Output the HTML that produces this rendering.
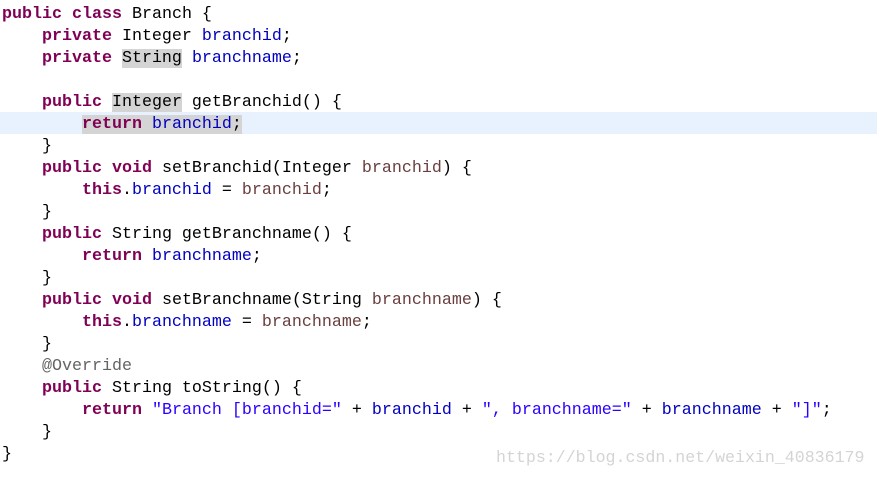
<!DOCTYPE html>
<html><head><meta charset="utf-8"><style>
body{margin:0;width:877px;height:478px;background:#fff;overflow:hidden;position:relative}
pre{margin:0;position:absolute;left:2px;top:4px;font-family:"Liberation Mono",monospace;font-size:16.67px;line-height:22px;color:#000}
.k{color:#7f0055;font-weight:bold}
.f{color:#0000c0}
.p{color:#6a3e3e}
.s{color:#2a00ff}
.a{color:#646464}
.hl{background:#d4d4d4}
#cur{position:absolute;left:0;top:112px;width:877px;height:22px;background:#e8f2fe}
#wm{position:absolute;left:496px;top:448px;font-family:"Liberation Mono",monospace;font-size:16.6px;color:#d4d4d4}
</style></head><body>
<div id="cur"></div>
<pre><span class="k">public</span> <span class="k">class</span> Branch {
    <span class="k">private</span> Integer <span class="f">branchid</span>;
    <span class="k">private</span> <span class="hl">String</span> <span class="f">branchname</span>;

    <span class="k">public</span> <span class="hl">Integer</span> getBranchid() {
        <span class="hl"><span class="k">return</span> <span class="f">branchid</span>;</span>
    }
    <span class="k">public</span> <span class="k">void</span> setBranchid(Integer <span class="p">branchid</span>) {
        <span class="k">this</span>.<span class="f">branchid</span> = <span class="p">branchid</span>;
    }
    <span class="k">public</span> String getBranchname() {
        <span class="k">return</span> <span class="f">branchname</span>;
    }
    <span class="k">public</span> <span class="k">void</span> setBranchname(String <span class="p">branchname</span>) {
        <span class="k">this</span>.<span class="f">branchname</span> = <span class="p">branchname</span>;
    }
    <span class="a">@Override</span>
    <span class="k">public</span> String toString() {
        <span class="k">return</span> <span class="s">"Branch [branchid="</span> + <span class="f">branchid</span> + <span class="s">", branchname="</span> + <span class="f">branchname</span> + <span class="s">"]"</span>;
    }
}</pre>
<div id="wm">https://blog.csdn.net/weixin_40836179</div>
</body></html>
